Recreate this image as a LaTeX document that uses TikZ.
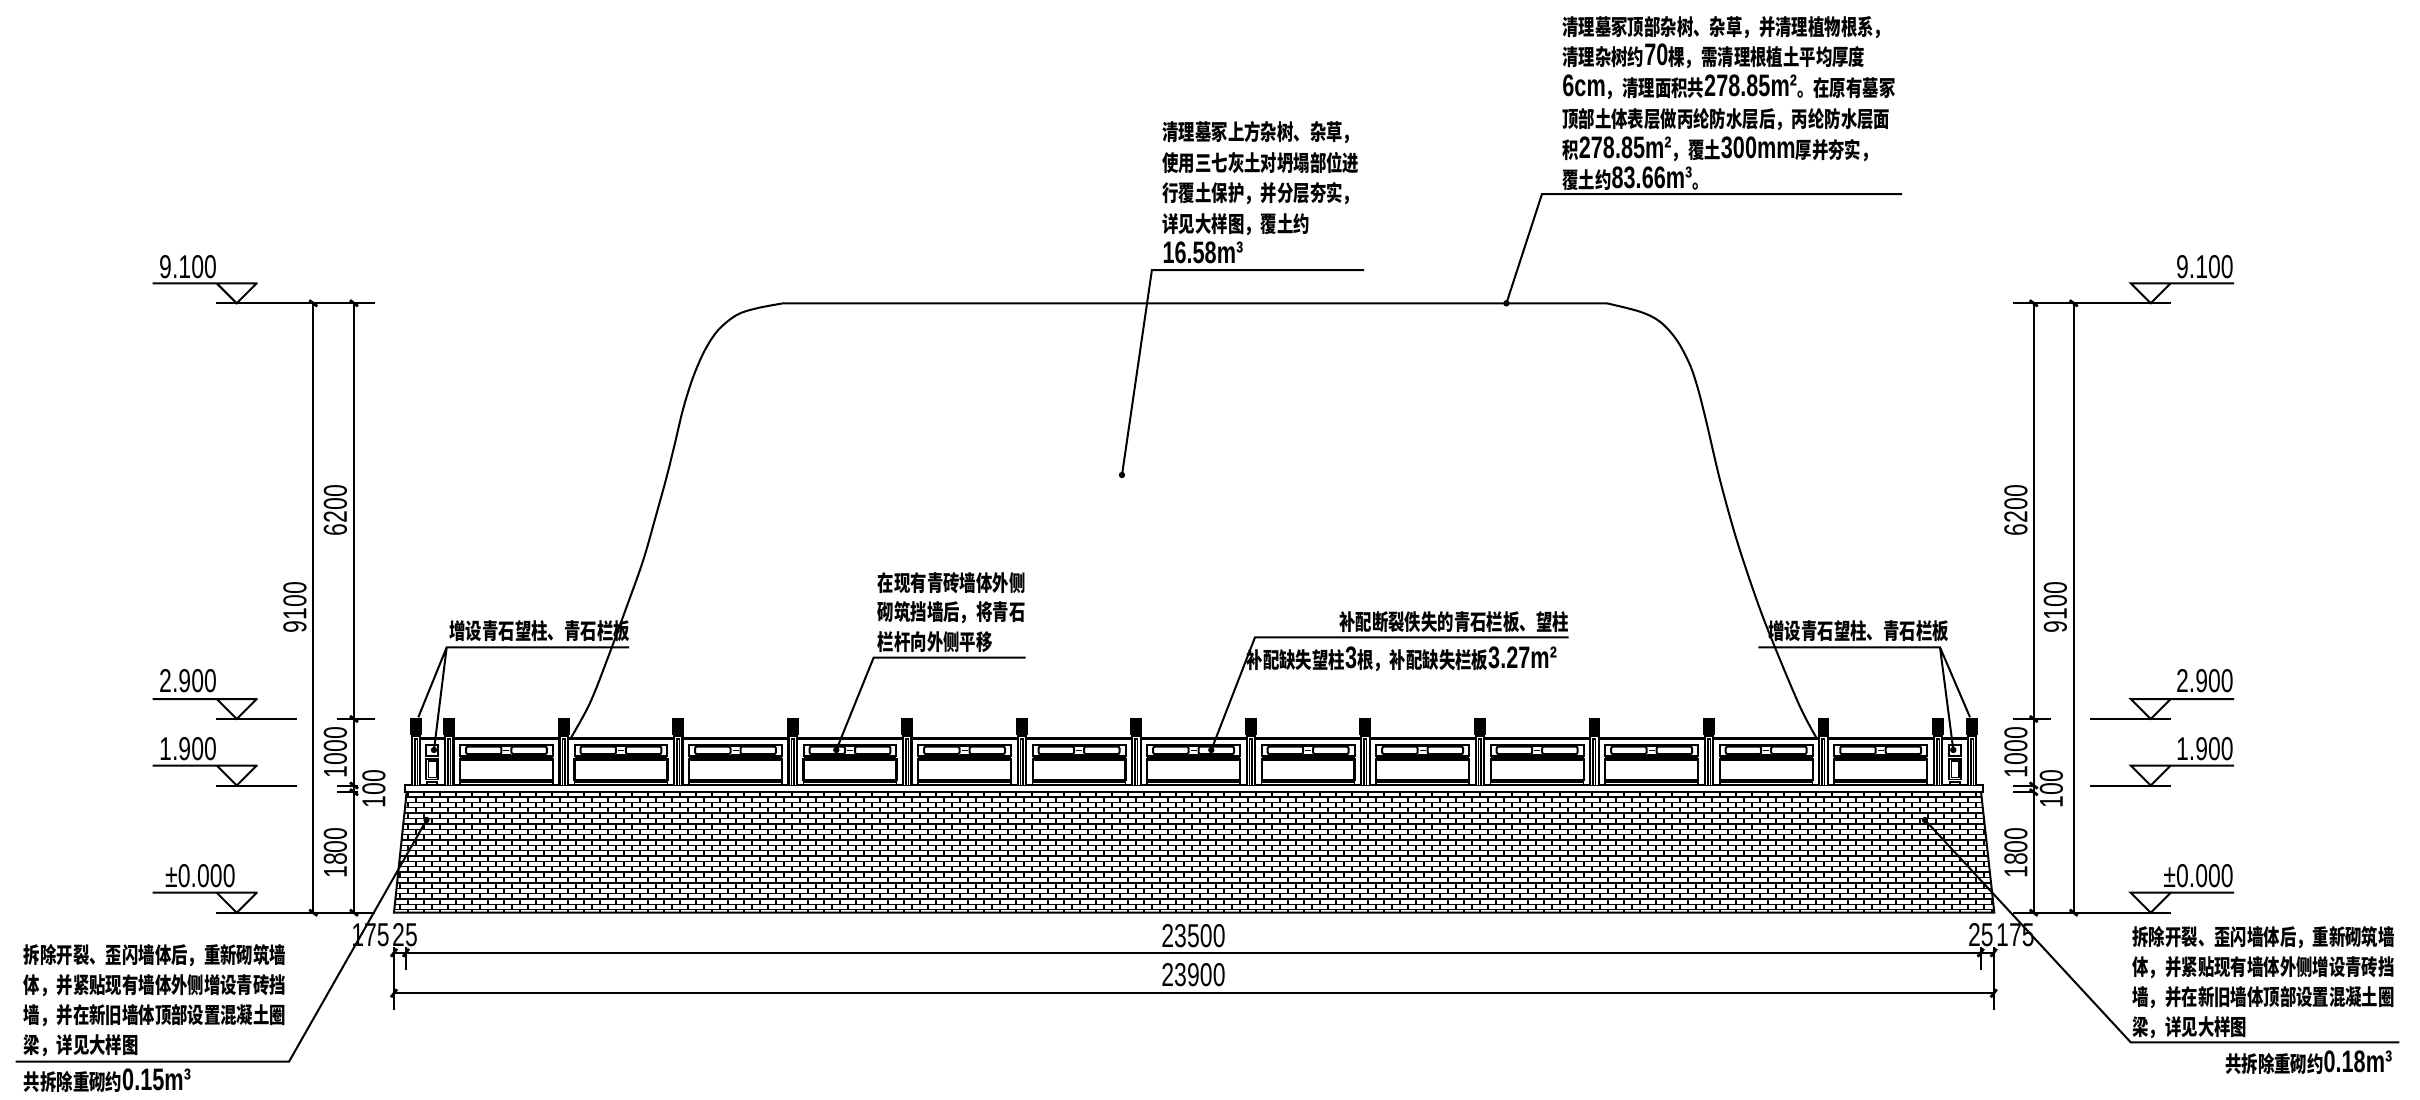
\documentclass[tikz,border=0pt]{standalone}
\usepackage{fontspec}
\newfontfamily\cnf[FakeStretch=.745]{Noto Sans CJK SC}
\newfontfamily\nf[FakeStretch=.70]{Liberation Sans}
\newcommand\dg[1]{{\nf\fontsize{31}{30}\selectfont #1}}
\tikzset{
  x=1pt,y=-1pt,
  base/.style={line width=2pt,line cap=butt,line join=miter},
  fine/.style={line width=1.8pt},
  cnote/.style={inner sep=0pt,anchor=north west,align=left,font=\cnf\bfseries\fontsize{22}{#1}\selectfont},
  dimtxt/.style={inner sep=0pt,font=\nf\fontsize{33}{33}\selectfont},
  dimv/.style={dimtxt,rotate=90},
}
\newcommand\tkv[2]{\draw[line width=2.8pt] (#1-4,#2-3) -- (#1+4,#2+3);}
\newcommand\tkh[2]{\draw[line width=2.8pt] (#1-3,#2+4) -- (#1+3,#2-4);}
\newcommand\rpost[1]{%
  \fill[black] (#1-5.9,718.3) rectangle (#1+5.9,735);
  \fill[black] (#1-5.3,733) rectangle (#1+5.3,785);
  \draw[white,line width=1.2pt] (#1-2.6,785) -- (#1-2.6,737.6) -- (#1+2.6,737.6) -- (#1+2.6,785);
  \draw[white,line width=.8pt] (#1,740) -- (#1,785);
}
\newcommand\rpanel[2]{%
  \draw[line width=2pt] (#1,745) rectangle (#2,755.7);
  \draw[line width=2.4pt] (#1,757.6) -- (#2,757.6);
  \draw[line width=2pt,rounded corners=2pt] (#1+6,746.5) rectangle ({(#1+#2)/2-5},754.2);
  \draw[line width=2pt,rounded corners=2pt] ({(#1+#2)/2+5},746.5) rectangle (#2-6,754.2);
  \draw[line width=1.6pt] ({(#1+#2)/2-5},746) -- ({(#1+#2)/2+5},746) ({(#1+#2)/2-5},755) -- ({(#1+#2)/2+5},755) ({(#1+#2)/2-3},750.3) -- ({(#1+#2)/2+3},750.3);
  \draw[line width=2.2pt] (#1,759.4) rectangle (#2,780);
  \draw[line width=1.6pt] (#1,782) rectangle (#2,785);
}
\newcommand\rsmall[2]{%
  \draw[fine] (#1,745) rectangle (#2,755.7);
  \draw[fine] (#1,758.8) rectangle (#2,779.5);
  \draw[line width=1.2pt] (#1+2,761) rectangle (#2-2,777.5);
  \draw[fine] (#1+1,782) rectangle (#2-1,785);
}
\newcommand\lvlL[1]{\draw[base] (152.7,#1-20) -- (257.7,#1-20) (216.7,#1-20) -- (236.7,#1) -- (256.7,#1-20);}
\newcommand\lvlR[1]{\draw[base] (2234,#1-20) -- (2130.7,#1-20) -- (2150.7,#1) -- (2170.7,#1-20);}
\begin{document}
\begin{tikzpicture}
\useasboundingbox (0,0) rectangle (2420,1100);
\fill[white] (0,0) rectangle (2420,1100);

% wall with brick coursing
\begin{scope}
\clip (406.7,791.7) -- (1981,791.7) -- (1994.3,912.7) -- (394,912.7) -- cycle;
\draw[line width=1.35pt]
  \foreach \r in {0,...,22} {
    (390,{791.7+\r*5.36}) -- (2000,{791.7+\r*5.36})
  };
\draw[line width=1.35pt]
  \foreach \r in {0,2,...,22} {
    \foreach \c in {0,...,100} {
      ({392+\c*16},{791.7+\r*5.36}) -- ({392+\c*16},{791.7+(\r+1)*5.36})
      ({400+\c*16},{791.7+(\r+1)*5.36}) -- ({400+\c*16},{791.7+(\r+2)*5.36})
    }
  };
\end{scope}
\draw[base] (406.7,791.7) -- (394,912.7) -- (1994.3,912.7) -- (1981,791.7);
\draw[base,fill=white] (405,785) rectangle (1982.7,791.7);

% railing
\draw[line width=2.4pt] (416,738.3) -- (1972,738.3);
\foreach \k in {0,...,12} {
  \pgfmathsetmacro\pl{449.2+\k*114.52+10.8}
  \pgfmathsetmacro\pr{449.2+(\k+1)*114.52-10.8}
  \rpanel{\pl}{\pr}
}
\rsmall{426.3}{438.3}
\rsmall{1949.3}{1961}
\foreach \px in {416,1972} { \rpost{\px} }
\foreach \k in {0,...,13} {
  \pgfmathsetmacro\pc{449.2+\k*114.52}
  \rpost{\pc}
}

% mound
\draw[base] plot[smooth,tension=.55] coordinates {(570.7,738.3) (590,703) (608.3,656.7) (626.7,606.7) (643.3,560) (656.7,513) (666.7,476.7) (675,443) (683.3,408.3) (693.3,376.7) (705,350) (718.3,330) (736.7,315) (756.7,308.3) (783.3,303.3)}
 -- (1606.7,303.3)
 plot[smooth,tension=.55] coordinates {(1606.7,303.3) (1640,311.7) (1660,321.7) (1676.7,340) (1690,365) (1698.3,390) (1706.7,423.3) (1720,480) (1736.7,540) (1756.7,600) (1773.3,643.3) (1800,706.7) (1816.7,738.3)};

% left levels and dimensions
\lvlL{303.3}\lvlL{719}\lvlL{785.5}\lvlL{912.7}
\draw[base] (216,303.3) -- (375,303.3) (216,719) -- (296.7,719) (216,785.5) -- (296.7,785.5) (216,912.7) -- (375,912.7);
\draw[base] (336.7,719) -- (375,719) (336.7,785.5) -- (358,785.5) (336.7,792.2) -- (358,792.2);
\draw[base] (313.3,303.3) -- (313.3,912.7) (354,303.3) -- (354,912.7);
\tkv{313.3}{303.3}\tkv{354}{303.3}\tkv{354}{719}\tkv{354}{785.5}\tkv{354}{792.2}\tkv{354}{912.7}\tkv{313.3}{912.7}
% right levels and dimensions
\lvlR{303.3}\lvlR{719}\lvlR{785.5}\lvlR{912.7}
\draw[base] (2012.7,303.3) -- (2170.7,303.3) (2090,719) -- (2170.7,719) (2090,785.5) -- (2170.7,785.5) (2012.7,912.7) -- (2170.7,912.7);
\draw[base] (2013,719) -- (2050.7,719) (2013,785.5) -- (2034,785.5) (2013,792.2) -- (2034,792.2);
\draw[base] (2033.7,303.3) -- (2033.7,912.7) (2073.7,303.3) -- (2073.7,912.7);
\tkv{2033.7}{303.3}\tkv{2073.7}{303.3}\tkv{2033.7}{719}\tkv{2033.7}{785.5}\tkv{2033.7}{792.2}\tkv{2033.7}{912.7}\tkv{2073.7}{912.7}
% bottom dimensions
\draw[base] (394,946.7) -- (394,1010) (406,946.7) -- (406,970) (1980.7,946.7) -- (1980.7,970) (1993.7,946.7) -- (1993.7,1010);
\draw[base] (394,952.7) -- (1993.7,952.7) (394,993.3) -- (1993.7,993.3);
\tkh{394}{952.7}\tkh{406}{952.7}\tkh{1980.7}{952.7}\tkh{1993.7}{952.7}\tkh{394}{993.3}\tkh{1993.7}{993.3}

% elevation and dimension text
\node[dimtxt,anchor=west] (l91) at (159,267) {9.100};
\node[dimtxt,anchor=west] (l29) at (159,681.5) {2.900};
\node[dimtxt,anchor=west] (l19) at (159,748.7) {1.900};
\node[dimtxt,anchor=west] (l00) at (165,876.6) {±0.000};
\node[dimtxt,anchor=east] (r91) at (2234,267) {9.100};
\node[dimtxt,anchor=east] (r29) at (2234,681.5) {2.900};
\node[dimtxt,anchor=east] (r19) at (2234,748.7) {1.900};
\node[dimtxt,anchor=east] (r00) at (2234,876.6) {±0.000};
\node[dimv] (d1) at (295,607.8) {9100};
\node[dimv] (d2) at (335.5,510.7) {6200};
\node[dimv] (d3) at (335.5,752.7) {1000};
\node[dimv] (d4) at (374,789) {100};
\node[dimv] (d5) at (335.5,853) {1800};
\node[dimv] (d6) at (2055.5,607.8) {9100};
\node[dimv] (d7) at (2016,510.7) {6200};
\node[dimv] (d8) at (2016,752.7) {1000};
\node[dimv] (d9) at (2051.5,789) {100};
\node[dimv] (d10) at (2016,853) {1800};
\node[dimtxt] (h1) at (1193.5,936) {23500};
\node[dimtxt] (h2) at (1193.5,975) {23900};
\node[dimtxt,anchor=east] (h3) at (390,935) {175};
\node[dimtxt,anchor=west] (h4) at (392,935) {25};
\node[dimtxt,anchor=east] (h5) at (1994,935) {25};
\node[dimtxt,anchor=west] (h6) at (1996,935) {175};

% note text
\node[cnote=30.8] (n1) at (1162.3,121) {清理墓冢上方杂树、杂草，\\使用三七灰土对坍塌部位进\\行覆土保护，并分层夯实，\\详见大样图，覆土约\\\dg{16.58m³}};
\node[cnote=30.7] (n2) at (1562.2,16) {清理墓冢顶部杂树、杂草，并清理植物根系，\\清理杂树约\dg{70}棵，需清理根植土平均厚度\\\dg{6cm}，清理面积共\dg{278.85m²}。在原有墓冢\\顶部土体表层做丙纶防水层后，丙纶防水层面\\积\dg{278.85m²}，覆土\dg{300mm}厚并夯实，\\覆土约\dg{83.66m³}。};
\node[cnote=29.6] (n3) at (877.7,572) {在现有青砖墙体外侧\\砌筑挡墙后，将青石\\栏杆向外侧平移};
\node[cnote=30,anchor=north east] (n4) at (1569,611) {补配断裂佚失的青石栏板、望柱};
\node[cnote=30] (n5) at (1246.5,647) {补配缺失望柱\dg{3}根，补配缺失栏板\dg{3.27m²}};
\node[cnote=30,anchor=west] (n6) at (449.3,631) {增设青石望柱、青石栏板};
\node[cnote=30,anchor=west] (n7) at (1768.3,631) {增设青石望柱、青石栏板};
\node[cnote=30] (n8) at (23.7,944.5) {拆除开裂、歪闪墙体后，重新砌筑墙\\体，并紧贴现有墙体外侧增设青砖挡\\墙，并在新旧墙体顶部设置混凝土圈\\梁，详见大样图};
\node[cnote=30] (n9) at (23.7,1069) {共拆除重砌约\dg{0.15m³}};
\node[cnote=30] (n10) at (2132.3,926) {拆除开裂、歪闪墙体后，重新砌筑墙\\体，并紧贴现有墙体外侧增设青砖挡\\墙，并在新旧墙体顶部设置混凝土圈\\梁，详见大样图};
\node[cnote=30] (n11) at (2225,1050.5) {共拆除重砌约\dg{0.18m³}};

% leaders
\coordinate (a1) at (1151.9,270); \coordinate (a1e) at (1364,270); \coordinate (a1d) at (1122,475);
\coordinate (a2) at (1542,194); \coordinate (a2e) at (1902,194); \coordinate (a2d) at (1506.4,303.3);
\coordinate (a3) at (873.6,657.7); \coordinate (a3e) at (1025.6,657.7); \coordinate (a3d) at (836.3,750);
\coordinate (a4) at (1255,637.3); \coordinate (a4e) at (1568.5,637.3); \coordinate (a4d) at (1211.3,750);
\coordinate (a5) at (446.7,647.3); \coordinate (a5e) at (629,647.3); \coordinate (a5p) at (418.3,717.3); \coordinate (a5d) at (434,750);
\coordinate (a6) at (1940,647.3); \coordinate (a6e) at (1758.3,647.3); \coordinate (a6p) at (1970,717.3); \coordinate (a6d) at (1953.3,750);
\coordinate (a7) at (289,1061.7); \coordinate (a7e) at (15.5,1061.7); \coordinate (a7d) at (426.5,820);
\coordinate (a8) at (2130.7,1042.3); \coordinate (a8e) at (2399.3,1042.3); \coordinate (a8d) at (1925,820);
\draw[base] (a1e) -- (a1) -- (a1d);
\draw[base] (a2e) -- (a2) -- (a2d);
\draw[base] (a3e) -- (a3) -- (a3d);
\draw[base] (a4e) -- (a4) -- (a4d);
\draw[base] (a5e) -- (a5) -- (a5p) (a5) -- (a5d);
\draw[base] (a6e) -- (a6) -- (a6p) (a6) -- (a6d);
\draw[base] (a7e) -- (a7) -- (a7d);
\draw[base] (a8e) -- (a8) -- (a8d);
\foreach \d in {a1d,a2d,a3d,a4d,a5d,a6d,a7d,a8d} { \fill[black] (\d) circle (3.2); }
\end{tikzpicture}
\end{document}
